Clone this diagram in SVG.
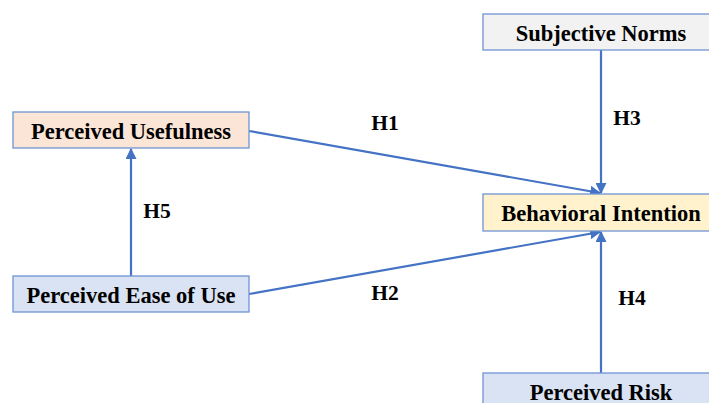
<svg xmlns="http://www.w3.org/2000/svg" width="709" height="403" viewBox="0 0 709 403">
<style>
.box{stroke:#6F94D4;stroke-width:1.3}
.c{stroke:#4472C4;stroke-width:2.2;fill:none;marker-end:url(#ah)}
</style>
<defs>
<marker id="ah" viewBox="0 0 10 10" refX="9" refY="5" markerWidth="5" markerHeight="5" orient="auto" markerUnits="strokeWidth">
<path d="M0,0 L10,5 L0,10 Z" fill="#4472C4"/>
</marker>
</defs>
<rect width="709" height="403" fill="#fff"/>
<g font-family="'Liberation Serif', 'Times New Roman', serif" font-weight="bold" font-size="22.5" fill="#000" text-anchor="middle">
<g id="connectors" font-size="21.5">
<line class="c" x1="249" y1="131" x2="600" y2="193"/>
<line class="c" x1="249" y1="294" x2="600" y2="232"/>
<line class="c" x1="601" y1="50" x2="601" y2="193"/>
<line class="c" x1="601" y1="373" x2="601" y2="232"/>
<line class="c" x1="131" y1="276" x2="131" y2="149"/>
<text x="385" y="130">H1</text>
<text x="385" y="300">H2</text>
<text x="627" y="125">H3</text>
<text x="632" y="305">H4</text>
<text x="157" y="218">H5</text>
</g>
<g id="pu"><rect class="box" x="13" y="112" width="236" height="36" fill="#FBE5D6"/><text x="131" y="138.5">Perceived Usefulness</text></g>
<g id="sn"><rect class="box" x="483" y="14" width="236" height="36" fill="#F2F2F2"/><text x="601" y="40.5">Subjective Norms</text></g>
<g id="bi"><rect class="box" x="483" y="194" width="236" height="37" fill="#FFF2CC"/><text x="601" y="220.5">Behavioral Intention</text></g>
<g id="peou"><rect class="box" x="13" y="276" width="236" height="36" fill="#DAE3F3"/><text x="131" y="302.5">Perceived Ease of Use</text></g>
<g id="pr"><rect class="box" x="483" y="373" width="236" height="40" fill="#DAE3F3"/><text x="601" y="399.5">Perceived Risk</text></g>
</g>
</svg>
